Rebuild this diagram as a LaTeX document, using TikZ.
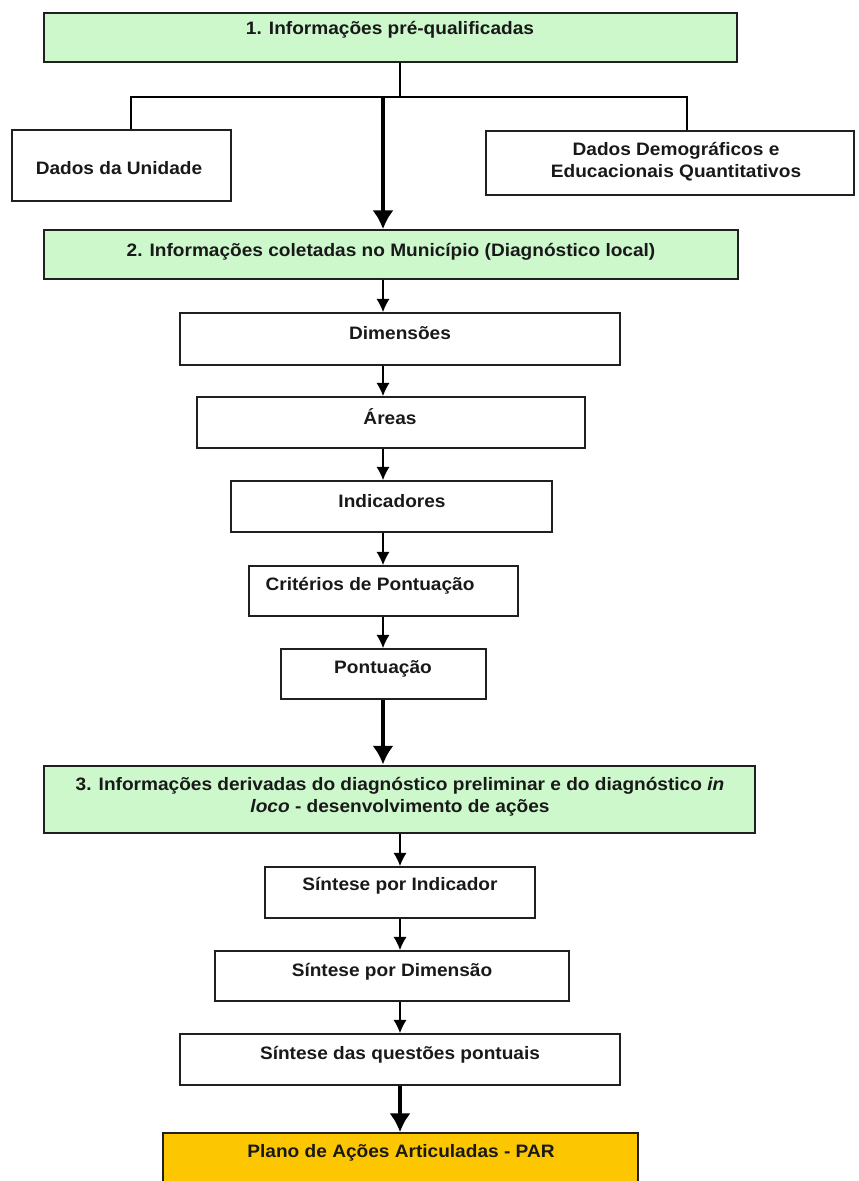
\documentclass[tikz,border=0pt]{standalone}
\usepackage{fontspec}
\setmainfont{Liberation Sans}[FakeStretch=1.06]
\usetikzlibrary{arrows.meta}
\definecolor{boxgreen}{HTML}{CCF8CC}
\definecolor{boxorange}{HTML}{FCC600}
\definecolor{edge}{HTML}{202020}
\tikzset{
  box/.style={draw=edge, line width=1.3pt, fill=white, rectangle, inner sep=0pt},
  greenbox/.style={box, fill=boxgreen},
  orangebox/.style={box, fill=boxorange},
  txt/.style={font=\fontsize{13.5pt}{16.5pt}\selectfont\bfseries, inner sep=0pt, align=center, text=black!90},
  arr/.style={draw=black, line width=1.1pt, -{Latex[length=10pt,width=10pt]}},
  bigarr/.style={draw=black, line width=3.6pt, -{Latex[length=14pt,width=16pt]}},
  tree/.style={draw=black, line width=0.9pt},
}
\begin{document}
\begin{tikzpicture}[x=0.75pt,y=-0.75pt]
\useasboundingbox (0,0) rectangle (858,1181);
% boxes (centre, size in px)
\node[greenbox, minimum width=693*0.75pt, minimum height=49*0.75pt] (b1) at (390.5,37.5) {};
\node[txt] (t1) at (390,30) {1. Informações pré-qualificadas};
\node[box, minimum width=219*0.75pt, minimum height=71*0.75pt] (dados) at (121.5,165.5) {};
\node[txt] (tdados) at (119,168) {Dados da Unidade};
\node[box, minimum width=368*0.75pt, minimum height=64*0.75pt] (demo) at (670,163) {};
\node[txt] (tdemo) at (676,162) {Dados Demográficos e\\Educacionais Quantitativos};
\node[greenbox, minimum width=694*0.75pt, minimum height=49*0.75pt] (b2) at (391,254.5) {};
\node[txt] (t2) at (391,252) {2. Informações coletadas no Município (Diagnóstico local)};
\node[box, minimum width=440*0.75pt, minimum height=52*0.75pt] (dim) at (400,339) {};
\node[txt] (tdim) at (400,333) {Dimensões};
\node[box, minimum width=388*0.75pt, minimum height=51*0.75pt] (areas) at (391,422.5) {};
\node[txt] (tareas) at (390,417) {Áreas};
\node[box, minimum width=321*0.75pt, minimum height=51*0.75pt] (ind) at (391.5,506.5) {};
\node[txt] (tind) at (392,501) {Indicadores};
\node[box, minimum width=269*0.75pt, minimum height=50*0.75pt] (crit) at (383.5,591) {};
\node[txt] (tcrit) at (370,586) {Critérios de Pontuação};
\node[box, minimum width=205*0.75pt, minimum height=50*0.75pt] (pont) at (383.5,674) {};
\node[txt] (tpont) at (383,669) {Pontuação};
\node[greenbox, minimum width=711*0.75pt, minimum height=67*0.75pt] (b3) at (399.5,799.5) {};
\node[txt] (t3) at (400,797) {3. Informações derivadas do diagnóstico preliminar e do diagnóstico \textit{in}\\\textit{loco} - desenvolvimento de ações};
\node[box, minimum width=270*0.75pt, minimum height=51*0.75pt] (sind) at (400,892.5) {};
\node[txt] (tsind) at (400,886) {Síntese por Indicador};
\node[box, minimum width=354*0.75pt, minimum height=50*0.75pt] (sdim) at (392,976) {};
\node[txt] (tsdim) at (392,972) {Síntese por Dimensão};
\node[box, minimum width=440*0.75pt, minimum height=51*0.75pt] (sq) at (400,1059.5) {};
\node[txt] (tsq) at (400,1055) {Síntese das questões pontuais};
\node[orangebox, minimum width=475*0.75pt, minimum height=70*0.75pt] (par) at (400.5,1168) {};
\node[txt] (tpar) at (401,1153) {Plano de Ações Articuladas - PAR};
% connector helper coordinates
\coordinate (j) at (400,97);
\coordinate (jl) at (131,97);
\coordinate (jr) at (687,97);
\coordinate (ja) at (383,97);
\coordinate (xa) at (383,0);
\coordinate (xb) at (400,0);
% connectors
\draw[tree] (b1.south -| j) -- (j);
\draw[tree] (dados.north -| jl) -- (jl) -- (jr) -- (demo.north -| jr);
\draw[bigarr] (ja) -- (b2.north -| ja);
\draw[arr] (b2.south -| xa) -- (dim.north -| xa);
\draw[arr] (dim.south -| xa) -- (areas.north -| xa);
\draw[arr] (areas.south -| xa) -- (ind.north -| xa);
\draw[arr] (ind.south -| xa) -- (crit.north -| xa);
\draw[arr] (crit.south -| xa) -- (pont.north -| xa);
\draw[bigarr] (pont.south -| xa) -- ([yshift=0.5pt]b3.north -| xa);
\draw[arr] (b3.south -| xb) -- (sind.north -| xb);
\draw[arr] (sind.south -| xb) -- (sdim.north -| xb);
\draw[arr] (sdim.south -| xb) -- (sq.north -| xb);
\draw[bigarr] (sq.south -| xb) -- (par.north -| xb);
\end{tikzpicture}
\end{document}
